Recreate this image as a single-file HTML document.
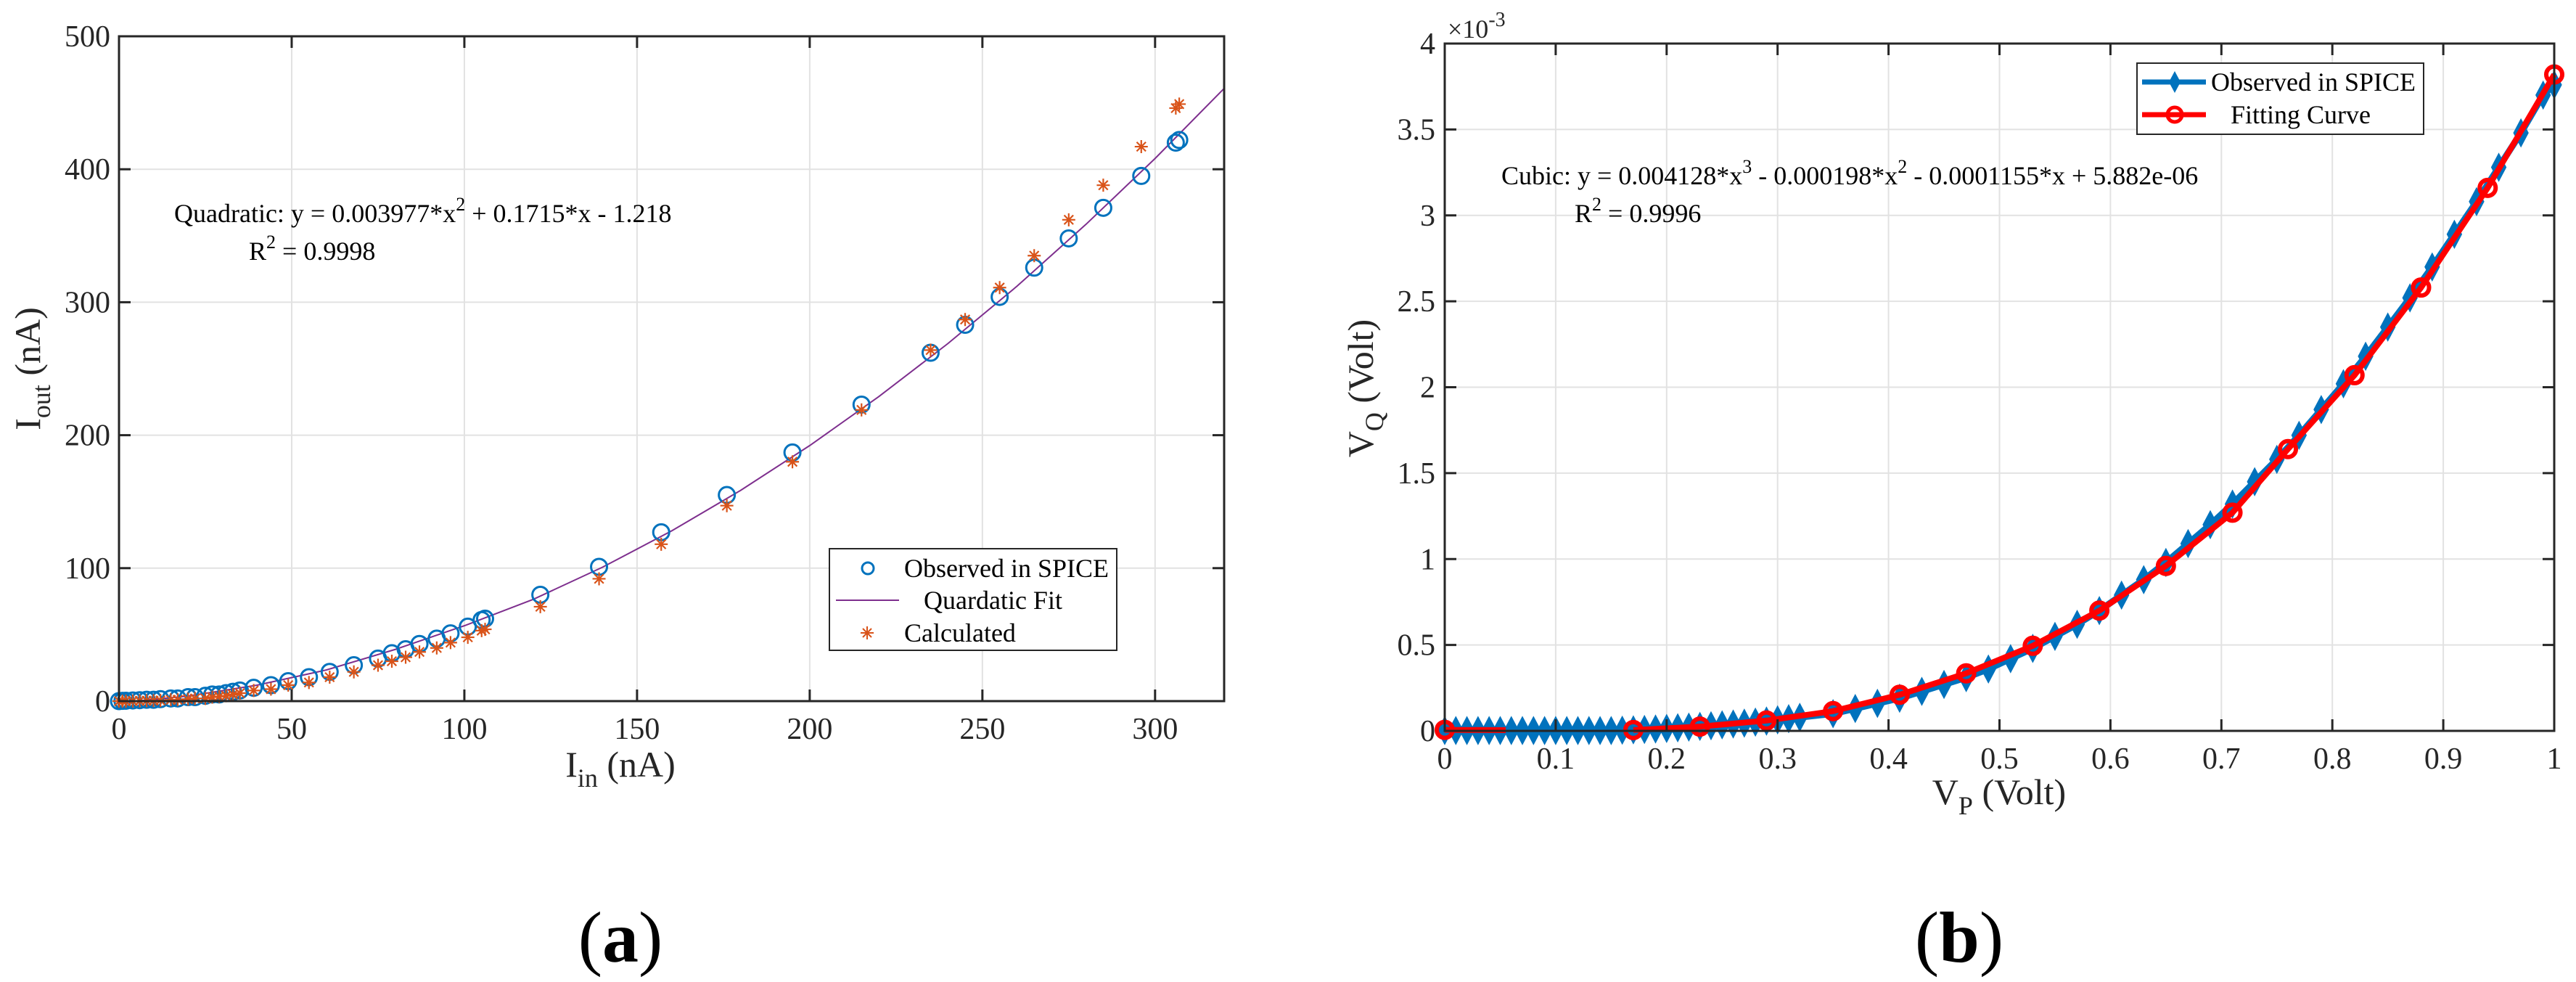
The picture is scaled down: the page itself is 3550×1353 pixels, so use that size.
<!DOCTYPE html>
<html><head><meta charset="utf-8"><style>
html,body{margin:0;padding:0;background:#fff;}
svg{display:block;font-family:"Liberation Serif",serif;}
</style></head>
<body>
<svg id="fig" width="3550" height="1353" viewBox="0 0 3550 1353" xmlns="http://www.w3.org/2000/svg">
<rect width="3550" height="1353" fill="#fff"/>
<g id="chartA"></g>
<g id="chartB"></g>
</svg>
<script>
// ---------- Chart (a) data ----------
const aObsX = [0,1,2,4,6,8,10,12,15,17,20,22,25,27,29,31,33,35,39,44,49,55,61,68,75,79,83,87,92,96,101,105,106,122,139,157,176,195,215,235,245,255,265,275,285,296,306,307];
const aObsY = [0,0.2,0.3,0.5,0.7,1,1,1.5,2,2,3,3,4,5,5,6,7,8,10,12,15,18,22,27,32,36,39,43,47,51,56,61,62,80,101,127,155,187,223,262,283,304,326,348,371,395,420,422];
const aCalcX = [0,1,2,4,6,8,10,12,15,17,20,22,25,27,29,31,33,35,39,44,49,55,61,68,75,79,83,87,92,96,101,105,106,122,139,157,176,195,215,235,245,255,265,275,285,296,306,307];
const aCalcY = [0,0,0,0.1,0.2,0.3,0.4,0.5,1,1,1.5,2,2,3,3.5,4,5,6,8,9,12,14,18,22,27,30,33,37,40,44,48,53,54,71,92,118,147,180,219,264,287,311,335,362,388,417,446,449];
const aFitX = [0,20,40,60,80,100,120,140,160,180,200,220,240,260,280,300,320];
const aFitY = [-1.2,3.8,12.0,23.4,38.9,56.7,76.6,100.7,128,158.5,192.2,229,268.9,312,358.6,408.1,460.8];
const aXTicks = [0,50,100,150,200,250,300];
const aYTicks = [0,100,200,300,400,500];

// ---------- Chart (b) data (values in 1e-3 V) ----------
const bObsX = [0,0.01,0.02,0.03,0.04,0.05,0.06,0.07,0.08,0.09,0.10,0.11,0.12,0.13,0.14,0.15,0.16,0.17,0.18,0.19,0.20,0.21,0.22,0.23,0.24,0.25,0.26,0.27,0.28,0.29,0.30,0.31,0.32,0.35,0.37,0.39,0.41,0.43,0.45,0.47,0.49,0.51,0.53,0.55,0.57,0.59,0.61,0.63,0.65,0.67,0.69,0.71,0.73,0.75,0.77,0.79,0.81,0.83,0.85,0.87,0.89,0.91,0.93,0.95,0.97,0.99,1.0];
const bObsY = [0.002,0.002,0.002,0.002,0.002,0.002,0.002,0.002,0.002,0.002,0.002,0.002,0.002,0.002,0.002,0.002,0.004,0.006,0.008,0.011,0.014,0.018,0.022,0.026,0.030,0.035,0.040,0.045,0.051,0.057,0.064,0.071,0.079,0.10,0.13,0.16,0.19,0.23,0.27,0.31,0.36,0.42,0.48,0.55,0.62,0.70,0.79,0.88,0.98,1.09,1.20,1.32,1.45,1.58,1.72,1.87,2.02,2.18,2.35,2.52,2.70,2.89,3.08,3.28,3.48,3.70,3.76];
const bFitX1 = [0,0.055];
const bFitY1 = [0.006,0.004];
const bFitX = [0,0.17,0.23,0.29,0.35,0.41,0.47,0.53,0.59,0.65,0.71,0.76,0.82,0.88,0.94,1.0];
const bFitY = [0.006,0.005,0.025,0.06,0.115,0.21,0.335,0.495,0.70,0.96,1.27,1.64,2.07,2.58,3.16,3.82];
const bXTicks = [0,0.1,0.2,0.3,0.4,0.5,0.6,0.7,0.8,0.9,1];
const bYTicks = [0,0.5,1,1.5,2,2.5,3,3.5,4];
const bYTickLabels = ["0","0.5","1","1.5","2","2.5","3","3.5","4"];

const NS = "http://www.w3.org/2000/svg";
function mk(parent, tag, attrs, text){
  const e = document.createElementNS(NS, tag);
  for (const k in attrs) e.setAttribute(k, attrs[k]);
  if (text !== undefined) e.textContent = text;
  parent.appendChild(e);
  return e;
}

// ---------- Chart A ----------
(function(){
  const g = document.getElementById('chartA');
  const L=164, R=1687, T=50, B=966, xmax=320, ymax=500;
  const sx = v => L + v/xmax*(R-L);
  const sy = v => B - v/ymax*(B-T);
  aXTicks.forEach(t=>{
    const l = mk(g,'line',{x1:sx(t),x2:sx(t),y1:T,y2:B,stroke:'#e2e2e2','stroke-width':2});
    
    
  });
  aYTicks.forEach(t=>{
    const l = mk(g,'line',{x1:L,x2:R,y1:sy(t),y2:sy(t),stroke:'#e2e2e2','stroke-width':2});
    
    
  });
  const fp = aFitX.map((x,i)=>sx(x)+','+sy(aFitY[i])).join(' ');
  const fit = mk(g,'polyline',{points:fp,fill:'none',stroke:'#7E2F8E','stroke-width':2});
  
  
  aObsX.forEach((x,i)=>{
    const c = mk(g,'circle',{cx:sx(x),cy:sy(aObsY[i]),r:11,fill:'none',stroke:'#0072BD','stroke-width':3});
    
    
  });
  aCalcX.forEach((x,i)=>{
    const cx=sx(x), cy=sy(aCalcY[i]), s=9;
    const d=`M${cx-s},${cy}H${cx+s}M${cx},${cy-s}V${cy+s}M${cx-s*0.7},${cy-s*0.7}L${cx+s*0.7},${cy+s*0.7}M${cx-s*0.7},${cy+s*0.7}L${cx+s*0.7},${cy-s*0.7}`;
    const p = mk(g,'path',{d:d,stroke:'#D95319','stroke-width':2.2,fill:'none'});
    
    
  });
  const box = mk(g,'rect',{x:L,y:T,width:R-L,height:B-T,fill:'none',stroke:'#262626','stroke-width':3});
  
  
  aXTicks.forEach(t=>{
    mk(g,'line',{x1:sx(t),x2:sx(t),y1:B,y2:B-16,stroke:'#262626','stroke-width':3});
    mk(g,'line',{x1:sx(t),x2:sx(t),y1:T,y2:T+16,stroke:'#262626','stroke-width':3});
    const tx = mk(g,'text',{x:sx(t),y:1018,'font-size':42,'text-anchor':'middle',fill:'#262626'},String(t));
    
    
  });
  aYTicks.forEach(t=>{
    mk(g,'line',{x1:L,x2:L+16,y1:sy(t),y2:sy(t),stroke:'#262626','stroke-width':3});
    mk(g,'line',{x1:R,x2:R-16,y1:sy(t),y2:sy(t),stroke:'#262626','stroke-width':3});
    const tx = mk(g,'text',{x:152,y:sy(t)+14,'font-size':42,'text-anchor':'end',fill:'#262626'},String(t));
    
    
  });
})();

// ---------- Chart B ----------
(function(){
  const g = document.getElementById('chartB');
  const L=1991, R=3520, T=60, B=1007, xmax=1, ymax=4;
  const sx = v => L + v/xmax*(R-L);
  const sy = v => B - v/ymax*(B-T);
  bXTicks.forEach(t=>{
    const l = mk(g,'line',{x1:sx(t),x2:sx(t),y1:T,y2:B,stroke:'#e2e2e2','stroke-width':2});
    
    
  });
  bYTicks.forEach(t=>{
    const l = mk(g,'line',{x1:L,x2:R,y1:sy(t),y2:sy(t),stroke:'#e2e2e2','stroke-width':2});
    
    
  });
  const op = bObsX.map((x,i)=>sx(x)+','+sy(bObsY[i])).join(' ');
  const ol = mk(g,'polyline',{points:op,fill:'none',stroke:'#0072BD','stroke-width':9,'stroke-linejoin':'round'});
  
  
  bObsX.forEach((x,i)=>{
    const cx=sx(x), cy=sy(bObsY[i]);
    const d=`M${cx},${cy-17}L${cx+9},${cy}L${cx},${cy+17}L${cx-9},${cy}Z`;
    const p = mk(g,'path',{d:d,fill:'#0072BD',stroke:'#0072BD','stroke-width':3});
    
    
  });
  const f1 = mk(g,'polyline',{points:bFitX1.map((x,i)=>sx(x)+','+sy(bFitY1[i])).join(' '),fill:'none',stroke:'#FF0000','stroke-width':8});
  
  
  const f2 = mk(g,'polyline',{points:bFitX.slice(1).map((x,i)=>sx(x)+','+sy(bFitY[i+1])).join(' '),fill:'none',stroke:'#FF0000','stroke-width':8,'stroke-linejoin':'round'});
  
  
  bFitX.forEach((x,i)=>{
    const c = mk(g,'circle',{cx:sx(x),cy:sy(bFitY[i]),r:11,fill:'none',stroke:'#FF0000','stroke-width':6});
    
    
  });
  const box = mk(g,'rect',{x:L,y:T,width:R-L,height:B-T,fill:'none',stroke:'#262626','stroke-width':3});
  
  
  bXTicks.forEach(t=>{
    mk(g,'line',{x1:sx(t),x2:sx(t),y1:B,y2:B-16,stroke:'#262626','stroke-width':3});
    mk(g,'line',{x1:sx(t),x2:sx(t),y1:T,y2:T+16,stroke:'#262626','stroke-width':3});
    const tx = mk(g,'text',{x:sx(t),y:1059,'font-size':42,'text-anchor':'middle',fill:'#262626'},String(t));
    
    
  });
  bYTicks.forEach((t,i)=>{
    mk(g,'line',{x1:L,x2:L+16,y1:sy(t),y2:sy(t),stroke:'#262626','stroke-width':3});
    mk(g,'line',{x1:R,x2:R-16,y1:sy(t),y2:sy(t),stroke:'#262626','stroke-width':3});
    const tx = mk(g,'text',{x:1978,y:sy(t)+14,'font-size':42,'text-anchor':'end',fill:'#262626'},bYTickLabels[i]);
    
    
  });
})();
</script>
<svg style="position:absolute;left:0;top:0" width="3550" height="1353" viewBox="0 0 3550 1353" xmlns="http://www.w3.org/2000/svg" font-family="Liberation Serif, serif">
  <text x="240" y="306" font-size="36" fill="#000">Quadratic:  y = 0.003977*x<tspan dy="-16" font-size="26">2</tspan><tspan dy="16"> + 0.1715*x - 1.218</tspan></text>
  <text x="343" y="358" font-size="36" fill="#000">R<tspan dy="-16" font-size="26">2</tspan><tspan dy="16"> = 0.9998</tspan></text>
  <text x="855" y="1070" font-size="50" text-anchor="middle" fill="#262626">I<tspan dy="14" font-size="36">in</tspan><tspan dy="-14"> (nA)</tspan></text>
  <text transform="translate(55,508) rotate(-90)" font-size="50" text-anchor="middle" fill="#262626">I<tspan dy="14" font-size="36">out</tspan><tspan dy="-14"> (nA)</tspan></text>
  <g>
    <rect x="1143" y="756" width="396" height="140" fill="#fff" stroke="#262626" stroke-width="2"/>
    <circle cx="1196" cy="783" r="8" fill="none" stroke="#0072BD" stroke-width="3"/>
    <text x="1246" y="795" font-size="36" fill="#000">Observed in SPICE</text>
    <line x1="1152" x2="1239" y1="827" y2="827" stroke="#7E2F8E" stroke-width="2"/>
    <text x="1273" y="839" font-size="36" fill="#000">Quardatic Fit</text>
    <path d="M1186,872H1204M1195,863V881M1189,866L1201,878M1189,878L1201,866" stroke="#D95319" stroke-width="2" fill="none"/>
    <text x="1246" y="884" font-size="36" fill="#000">Calculated</text>
  </g>
  <text x="855" y="1325" font-size="100" text-anchor="middle" fill="#000">(<tspan font-weight="bold">a</tspan>)</text>

  <text x="1995" y="52" font-size="36" fill="#262626">×10<tspan dy="-16" font-size="28">-3</tspan></text>
  <text x="2069" y="254" font-size="36" fill="#000">Cubic:  y = 0.004128*x<tspan dy="-16" font-size="26">3</tspan><tspan dy="16"> - 0.000198*x</tspan><tspan dy="-16" font-size="26">2</tspan><tspan dy="16"> - 0.0001155*x + 5.882e-06</tspan></text>
  <text x="2170" y="306" font-size="36" fill="#000">R<tspan dy="-16" font-size="26">2</tspan><tspan dy="16"> = 0.9996</tspan></text>
  <text x="2755" y="1108" font-size="50" text-anchor="middle" fill="#262626">V<tspan dy="14" font-size="36">P</tspan><tspan dy="-14"> (Volt)</tspan></text>
  <text transform="translate(1892,535) rotate(-90)" font-size="50" text-anchor="middle" fill="#262626">V<tspan dy="14" font-size="36">Q</tspan><tspan dy="-14"> (Volt)</tspan></text>
  <g>
    <rect x="2945" y="87" width="395" height="98" fill="#fff" stroke="#262626" stroke-width="2"/>
    <line x1="2952" x2="3040" y1="113" y2="113" stroke="#0072BD" stroke-width="7"/>
    <path d="M2997,98L3005,113L2997,128L2989,113Z" fill="#0072BD"/>
    <text x="3047" y="125" font-size="36" fill="#000">Observed in SPICE</text>
    <line x1="2952" x2="3040" y1="158" y2="158" stroke="#FF0000" stroke-width="7"/>
    <circle cx="2997" cy="158" r="10" fill="none" stroke="#FF0000" stroke-width="5"/>
    <text x="3074" y="170" font-size="36" fill="#000">Fitting Curve</text>
  </g>
  <text x="2700" y="1325" font-size="100" text-anchor="middle" fill="#000">(<tspan font-weight="bold">b</tspan>)</text>
</svg>
</body></html>
